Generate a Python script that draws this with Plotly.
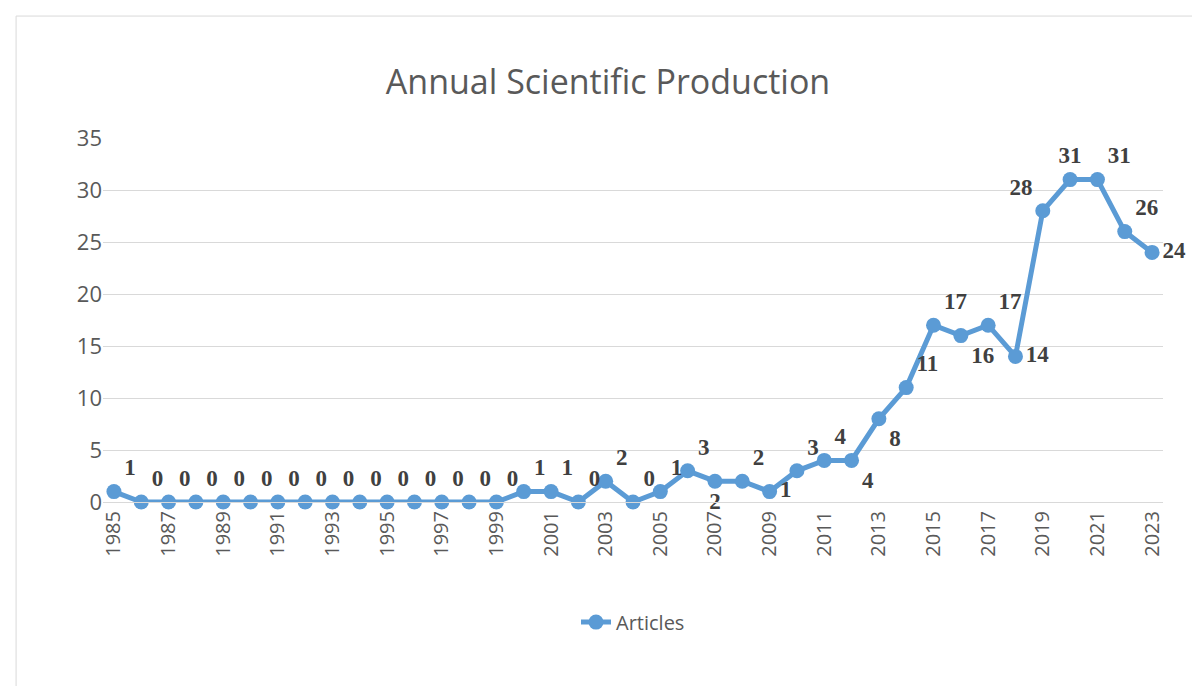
import plotly.graph_objects as go

years = list(range(1985, 2024))
articles = [1, 0, 0, 0, 0, 0, 0, 0, 0, 0, 0, 0, 0, 0, 0, 1, 1, 0, 2, 0,
            1, 3, 2, 2, 1, 3, 4, 4, 8, 11, 17, 16, 17, 14, 28, 31, 31, 26, 24]

pos = ["top right"] * len(years)
special = {2007: "bottom center", 2009: "middle right", 2012: "bottom right",
           2013: "bottom right", 2016: "bottom right", 2018: "middle right",
           2019: "top left", 2020: "top center", 2021: "top right",
           2022: "top right", 2023: "middle right"}
for y, p in special.items():
    pos[years.index(y)] = p

fig = go.Figure()
fig.add_trace(go.Scatter(
    x=years, y=articles, mode="lines+markers+text", name="Articles",
    line=dict(color="#5b9bd5", width=5),
    marker=dict(size=15, color="#5b9bd5"),
    text=["<b>%d</b>" % v for v in articles], textposition=pos,
    textfont=dict(family="Liberation Serif", size=23, color="#404040"),
    cliponaxis=False, showlegend=True,
))
fig.update_layout(
    width=1200, height=686, showlegend=True,
    title=dict(text="Annual Scientific Production", x=0.5, y=0.91,
               font=dict(family="Open Sans", size=34, color="#595959")),
    font=dict(family="Open Sans", color="#595959", size=20),
    plot_bgcolor="white", paper_bgcolor="white",
    margin=dict(l=95, r=45, t=130, b=192),
    xaxis=dict(range=[1984.6, 2023.4], tickmode="array",
               tickvals=years[::2], tickangle=-90, showgrid=False,
               showline=True, linecolor="#d9d9d9", tickfont=dict(size=20)),
    yaxis=dict(range=[0, 35], dtick=5, gridcolor="#d9d9d9", zeroline=False,
               tickfont=dict(size=22)),
    legend=dict(orientation="h", x=0.5, xanchor="center", y=-0.33,
                yanchor="middle", font=dict(size=20)),
    shapes=[dict(type="rect", xref="paper", yref="paper", x0=-0.082, x1=1.033,
                 y0=-0.511, y1=1.335, line=dict(color="#d9d9d9", width=1))],
)
fig.write_html("out.html")
